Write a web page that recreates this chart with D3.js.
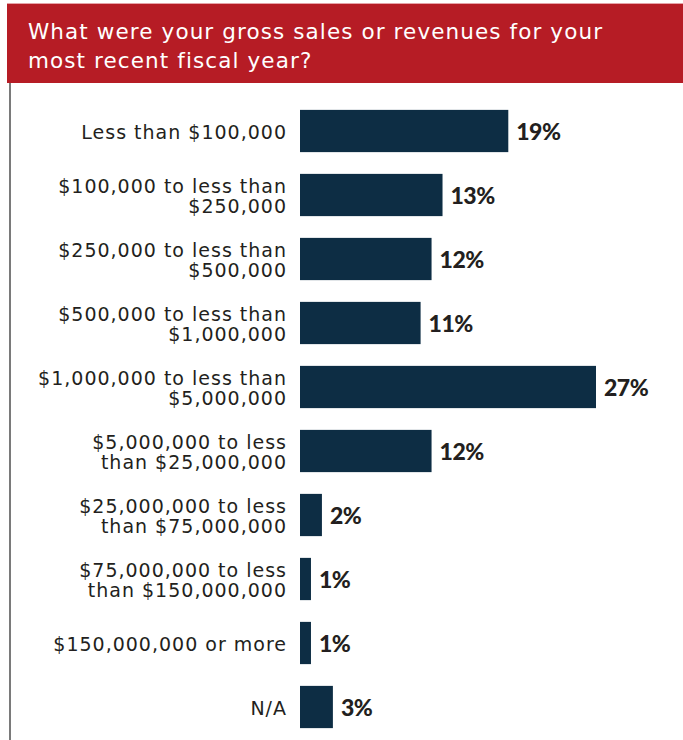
<!DOCTYPE html>
<html>
<head>
<meta charset="utf-8">
<script src="https://cdn.jsdelivr.net/npm/d3@7"></script>
<style>
  html, body { margin: 0; padding: 0; background: #fff; }
  svg { display: block; }
</style>
</head>
<body>
<svg id="chart" width="683" height="740"></svg>
<script>
// Survey question and answer buckets
const titleLines = ["What were your gross sales or revenues for your", "most recent fiscal year?"];
const categories = [
  ["Less than $100,000"],
  ["$100,000 to less than", "$250,000"],
  ["$250,000 to less than", "$500,000"],
  ["$500,000 to less than", "$1,000,000"],
  ["$1,000,000 to less than", "$5,000,000"],
  ["$5,000,000 to less", "than $25,000,000"],
  ["$25,000,000 to less", "than $75,000,000"],
  ["$75,000,000 to less", "than $150,000,000"],
  ["$150,000,000 or more"],
  ["N/A"]
];
const values = [19, 13, 12, 11, 27, 12, 2, 1, 1, 3];

const svg = d3.select("#chart");
const W = 683, H = 740;

// Header band
svg.append("rect").attr("x", 7).attr("y", 3).attr("width", W - 7).attr("height", 1)
  .attr("fill", "#e6a3a8");
svg.append("rect").attr("x", 7).attr("y", 4).attr("width", W - 7).attr("height", 79)
  .attr("fill", "#b61c25");
svg.append("g").selectAll("text").data(titleLines).join("text")
  .attr("x", 28).attr("y", (d, i) => 39 + i * 29)
  .attr("fill", "#fff")
  .attr("font-family", "'DejaVu Sans', sans-serif")
  .attr("font-size", 21.5)
  .attr("letter-spacing", 1.1)
  .text(d => d);

// Left rule
svg.append("rect").attr("x", 9).attr("y", 83).attr("width", 2).attr("height", H - 83)
  .attr("fill", "#7a7a7a");

// Scales
const x = d3.scaleLinear().domain([0, 27]).range([300, 596]);
const y = d3.scaleBand().domain(d3.range(values.length)).range([99, 739]).paddingInner(0.34).paddingOuter(0.17);

// Bars
svg.append("g").selectAll("rect").data(values).join("rect")
  .attr("x", x(0))
  .attr("y", (d, i) => y(i))
  .attr("width", d => x(d) - x(0))
  .attr("height", y.bandwidth())
  .attr("fill", "#0d2d44");

// Value labels
svg.append("g").selectAll("text").data(values).join("text")
  .attr("x", d => x(d) + 8)
  .attr("y", (d, i) => y(i) + y.bandwidth() / 2 + 9)
  .attr("fill", "#231f20")
  .attr("font-family", "Lato, 'Noto Sans', sans-serif")
  .attr("font-weight", 900)
  .attr("font-size", 23)
  .attr("letter-spacing", -0.5)
  .text(d => d + "%");

// Category labels (right-aligned, wrapped)
const lab = svg.append("g").selectAll("text").data(categories).join("text")
  .attr("text-anchor", "end")
  .attr("fill", "#231f20")
  .attr("font-family", "'DejaVu Sans', sans-serif")
  .attr("font-size", 19)
  .attr("letter-spacing", 1.0);
lab.each(function(lines, i) {
  const cy = y(i) + y.bandwidth() / 2;
  const lh = 20;
  const y0 = cy + 8 - (lines.length - 1) * lh / 2;
  d3.select(this).selectAll("tspan").data(lines).join("tspan")
    .attr("x", 287)
    .attr("y", (d, j) => y0 + j * lh)
    .text(d => d);
});
</script>
</body>
</html>
